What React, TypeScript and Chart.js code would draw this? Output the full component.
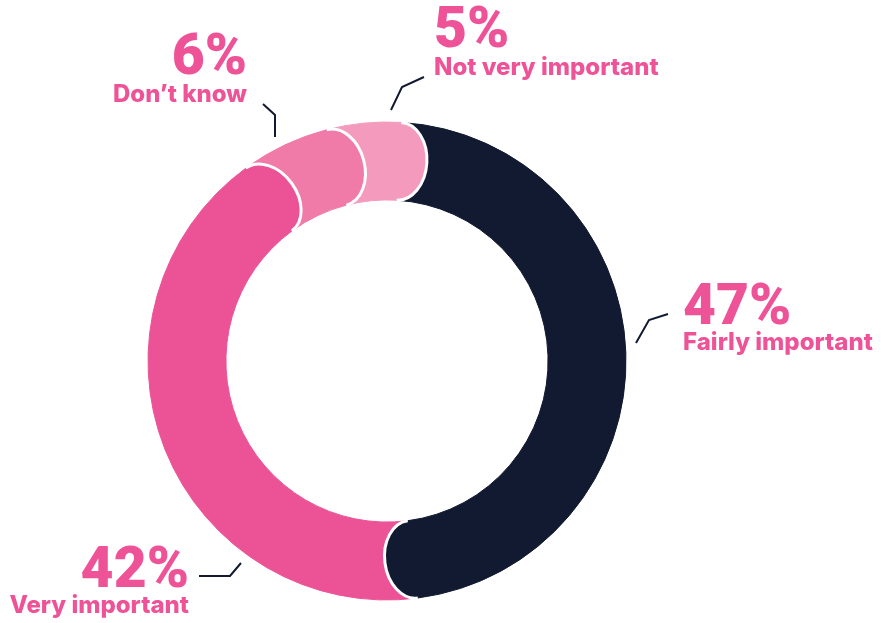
import React, { useEffect, useRef } from "react";
import { Chart, registerables } from "chart.js";

Chart.register(...registerables);

const categories = ["Fairly important", "Very important", "Don’t know", "Not very important"];
const values = [47, 42, 6, 5];
const percentLabels = ["47%", "42%", "6%", "5%"];
const colors = ["#111a30", "#ec5396", "#f07aa8", "#f49abd"];

const PINK_TEXT = "#ee5297";
const LINE = "#111a30";
const PCT_FONT = "Roboto, Inter, sans-serif";
const LBL_FONT = "Inter, 'Noto Sans', sans-serif";

type LabelSpec = { x: number; y1: number; y2: number; align: CanvasTextAlign; line: number[][] };
const labelLayout: LabelSpec[] = [
  { x: 683, y1: 324, y2: 350, align: "left", line: [[636, 343], [649, 320], [668, 314]] },
  { x: 189, y1: 587, y2: 613, align: "right", line: [[199, 576], [230, 576], [241, 563]] },
  { x: 247, y1: 74, y2: 102, align: "right", line: [[263, 104], [275, 115], [275, 137]] },
  { x: 434, y1: 47, y2: 75, align: "left", line: [[391, 110], [402, 87], [424, 77]] },
];

const capsPlugin = {
  id: "roundCaps",
  afterDatasetsDraw(chart: any) {
    const meta = chart.getDatasetMeta(0);
    const ctx: CanvasRenderingContext2D = chart.ctx;
    ctx.save();
    meta.data.forEach((arc: any, i: number) => {
      const p = arc.getProps(["x", "y", "startAngle", "endAngle", "innerRadius", "outerRadius"], true);
      const th = p.endAngle;
      const rm = (p.innerRadius + p.outerRadius) / 2;
      const h = (p.outerRadius - p.innerRadius) / 2;
      const cx = p.x + rm * Math.cos(th);
      const cy = p.y + rm * Math.sin(th);
      const a = h * 0.72;
      const rot = th + Math.PI / 2;
      ctx.beginPath();
      ctx.ellipse(cx, cy, a, h - 0.3, rot, 0, Math.PI * 2, false);
      ctx.closePath();
      ctx.fillStyle = colors[i];
      ctx.fill();
      ctx.beginPath();
      ctx.ellipse(cx, cy, a, h, rot, -Math.PI / 2, Math.PI / 2, false);
      ctx.strokeStyle = "#ffffff";
      ctx.lineWidth = 3;
      ctx.stroke();
    });
    ctx.restore();
  },
  afterDraw(chart: any) {
    const ctx: CanvasRenderingContext2D = chart.ctx;
    ctx.save();
    labelLayout.forEach((l, i) => {
      ctx.beginPath();
      l.line.forEach((pt, j) => (j === 0 ? ctx.moveTo(pt[0], pt[1]) : ctx.lineTo(pt[0], pt[1])));
      ctx.strokeStyle = LINE;
      ctx.lineWidth = 2;
      ctx.lineJoin = "miter";
      ctx.stroke();
      ctx.fillStyle = PINK_TEXT;
      ctx.textAlign = l.align;
      ctx.textBaseline = "alphabetic";
      ctx.font = `900 57px ${PCT_FONT}`;
      ctx.fillText(percentLabels[i], l.x, l.y1);
      ctx.font = `800 24px ${LBL_FONT}`;
      ctx.fillText(categories[i], l.x, l.y2);
    });
    ctx.restore();
  },
};

export default function App() {
  const ref = useRef<HTMLCanvasElement | null>(null);
  useEffect(() => {
    if (!ref.current) return;
    const chart = new Chart(ref.current, {
      type: "doughnut",
      data: {
        labels: categories,
        datasets: [
          {
            data: values,
            backgroundColor: colors,
            borderColor: colors,
            borderWidth: 1,
          },
        ],
      },
      options: {
        animation: false,
        responsive: true,
        maintainAspectRatio: false,
        rotation: 3.4,
        radius: 239,
        cutout: "67.4%",
        layout: { padding: { left: 0, right: 107, top: 99, bottom: 0 } },
        plugins: { legend: { display: false }, tooltip: { enabled: false } },
      },
      plugins: [capsPlugin],
    });
    return () => chart.destroy();
  }, []);
  return (
    <div style={{ position: "absolute", left: 0, top: 0, width: 881, height: 623, background: "#fff" }}>
      <canvas ref={ref} />
    </div>
  );
}
